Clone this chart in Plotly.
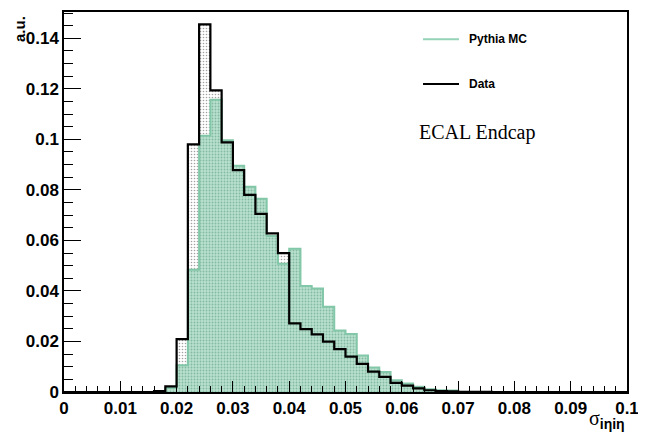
import plotly.graph_objects as go

# 50 bins of width 0.002 from 0 to 0.1 (low edges)
bin_width = 0.002
bin_low = [round(i * bin_width, 3) for i in range(50)]

data_vals = [
    0, 0, 0, 0, 0, 0, 0, 0, 0.0004, 0.0022,            # 0.000-0.020
    0.0209, 0.098, 0.1455, 0.1194, 0.0988, 0.0878, 0.078, 0.0705, 0.0628, 0.055,  # 0.020-0.040
    0.0272, 0.0249, 0.0228, 0.0199, 0.0170, 0.0140, 0.0111, 0.0081, 0.0060, 0.0036,  # 0.040-0.060
    0.0025, 0.0014, 0.0007, 0.0004, 0.0003, 0.0001, 0.0001, 0.0001, 0, 0,  # 0.060-0.080
    0, 0, 0, 0, 0, 0, 0, 0, 0, 0,                      # 0.080-0.100
]
mc_vals = [
    0, 0, 0, 0, 0, 0, 0, 0, 0.0002, 0.0016,
    0.0106, 0.0484, 0.1014, 0.1157, 0.0996, 0.0895, 0.0812, 0.0765, 0.0617, 0.0508,
    0.0567, 0.042, 0.041, 0.0337, 0.0243, 0.0230, 0.0144, 0.0097, 0.0079, 0.0047,
    0.0034, 0.0021, 0.0011, 0.0007, 0.0006, 0, 0, 0, 0, 0,
    0, 0, 0, 0, 0, 0, 0, 0, 0, 0,
]

x_ticks = [0, 0.01, 0.02, 0.03, 0.04, 0.05, 0.06, 0.07, 0.08, 0.09, 0.1]
x_ticklabels = ["0", "0.01", "0.02", "0.03", "0.04", "0.05", "0.06", "0.07", "0.08", "0.09", "0.1"]
y_ticks = [0, 0.02, 0.04, 0.06, 0.08, 0.1, 0.12, 0.14]
y_ticklabels = ["0", "0.02", "0.04", "0.06", "0.08", "0.1", "0.12", "0.14"]

centers = [b + bin_width / 2 for b in bin_low]
step_x = bin_low + [0.1]

MC_LINE = "#82c7a8"
fig = go.Figure()

fig.add_trace(go.Bar(
    x=centers, y=data_vals, width=bin_width,
    marker=dict(color="white", line=dict(width=0),
                pattern=dict(shape=".", fgcolor="#444444", bgcolor="white", size=3, solidity=0.22)),
    showlegend=False, hoverinfo="skip"))
fig.add_trace(go.Bar(
    x=centers, y=mc_vals, width=bin_width,
    marker=dict(color="#b6dfcc", line=dict(width=0),
                pattern=dict(shape=".", fgcolor="#4f9479", bgcolor="#b8e0cd", size=3, solidity=0.3)),
    showlegend=False, hoverinfo="skip"))
fig.add_trace(go.Scatter(
    x=step_x, y=mc_vals + [mc_vals[-1]], mode="lines",
    line=dict(color=MC_LINE, width=2, shape="hv"), showlegend=False, hoverinfo="skip"))
fig.add_trace(go.Scatter(
    x=step_x, y=data_vals + [data_vals[-1]], mode="lines",
    line=dict(color="black", width=2.2, shape="hv"), showlegend=False, hoverinfo="skip"))

tickfont = dict(family="Liberation Sans, Arial, sans-serif", size=17, color="black", weight="bold")

# page body has an 8px margin, so the figure is offset by 8px right and down
fig.update_layout(
    width=638, height=427,
    margin=dict(l=56, r=19, t=2, b=43),
    paper_bgcolor="white", plot_bgcolor="white",
    barmode="overlay", bargap=0,
    showlegend=False,
    xaxis=dict(range=[0, 0.1], tickmode="array", tickvals=x_ticks, ticktext=x_ticklabels,
               ticks="inside", ticklen=11, tickwidth=1, tickcolor="black",
               minor=dict(ticks="inside", ticklen=6, dtick=0.002, tickcolor="black", tickwidth=1),
               showgrid=False, zeroline=False, showline=True, linecolor="black", linewidth=1.5,
               mirror=True, tickfont=tickfont),
    yaxis=dict(range=[0, 0.1504], tickmode="array", tickvals=y_ticks, ticktext=y_ticklabels,
               ticks="inside", ticklen=17, tickwidth=1, tickcolor="black",
               minor=dict(ticks="inside", ticklen=9, dtick=0.005, tickcolor="black", tickwidth=1),
               showgrid=False, zeroline=False, showline=True, linecolor="black", linewidth=1.5,
               mirror=True, tickfont=tickfont),
)

# manual legend
leg_font = dict(family="Liberation Sans, Arial, sans-serif", size=12, color="black", weight="bold")
fig.add_shape(type="line", xref="paper", yref="paper", x0=0.6377, x1=0.7016, y0=0.9285, y1=0.9285,
              line=dict(color="#96d2b8", width=2))
fig.add_shape(type="line", xref="paper", yref="paper", x0=0.6377, x1=0.7016, y0=0.8107, y1=0.8107,
              line=dict(color="black", width=2))
fig.add_annotation(xref="paper", yref="paper", x=0.7153, y=0.9285, text="Pythia MC",
                   showarrow=False, xanchor="left", yanchor="middle", font=leg_font)
fig.add_annotation(xref="paper", yref="paper", x=0.7153, y=0.8107, text="Data",
                   showarrow=False, xanchor="left", yanchor="middle", font=leg_font)
fig.add_annotation(xref="paper", yref="paper", x=0.627, y=0.683, text="ECAL Endcap",
                   showarrow=False, xanchor="left", yanchor="middle",
                   font=dict(family="Liberation Serif, Times New Roman, serif", size=20, color="black"))

# axis titles
fig.add_annotation(xref="paper", yref="paper", x=-0.078, y=0.995, text="<b>a.u.</b>", textangle=-90,
                   showarrow=False, xanchor="center", yanchor="top",
                   font=dict(family="Liberation Sans, Arial, sans-serif", size=15, color="black"))
fig.add_annotation(xref="paper", yref="paper", x=1.0, y=-0.072,
                   text='σ<sub><span style="font-family:Liberation Sans, Arial, sans-serif;font-weight:bold">iηiη</span></sub>',
                   showarrow=False, xanchor="right", yanchor="middle",
                   font=dict(family="Liberation Serif, Times New Roman, serif", size=20, color="black"))

fig.write_html("out.html")
